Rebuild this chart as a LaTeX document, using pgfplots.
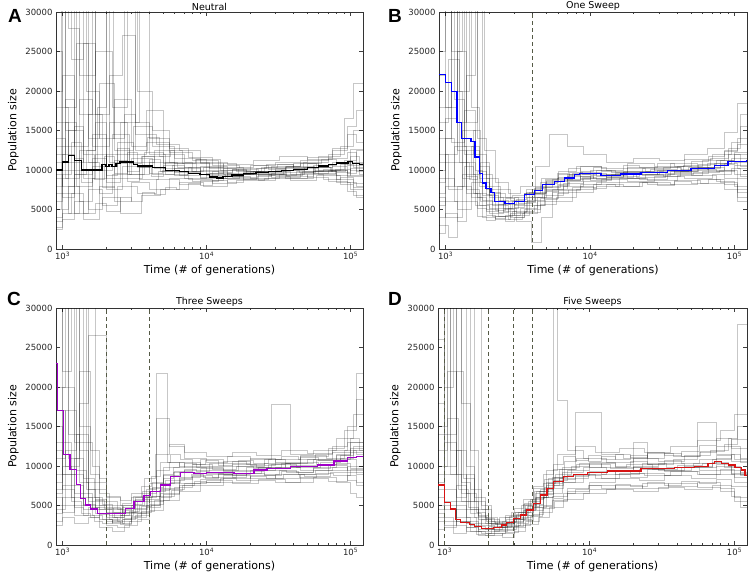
\documentclass[border=0pt]{standalone}
\usepackage{pgfplots}
\pgfplotsset{compat=1.18}
\usepackage{fontspec}
\setmainfont{DejaVu Sans}
\newfontfamily\letterfont{Liberation Sans}
\definecolor{medpurple}{RGB}{160,0,200}
\definecolor{medred}{RGB}{215,20,20}
\definecolor{medblue}{RGB}{0,0,255}
\definecolor{dashc}{RGB}{85,90,70}
\pgfplotsset{
  myaxis/.style={
    scale only axis, width=307pt, height=237pt,
    xmin=900, xmax=122000, ymin=0, ymax=30000,
    ytick={0,5000,10000,15000,20000,25000,30000},
    scaled y ticks=false,
    yticklabel style={/pgf/number format/1000 sep={}, /pgf/number format/assume math mode=true},
    xtick={1000,10000,100000},
    xticklabels={10\textsuperscript{3},10\textsuperscript{4},10\textsuperscript{5}},
    minor xtick={2000,3000,4000,5000,6000,7000,8000,9000,20000,30000,40000,50000,60000,70000,80000,90000},
    tick align=inside, xtick pos=both, ytick pos=both,
    major tick length=4pt, minor tick length=2pt,
    tick style={black!75, line width=0.5pt},
    axis line style={black!80, line width=0.7pt},
    tick label style={font=\fontsize{8.5}{9}\selectfont, black!85},
    label style={font=\fontsize{11}{13}\selectfont},
    title style={font=\fontsize{9.5}{11}\selectfont, yshift=-8pt},
    xlabel={Time (\# of generations)}, ylabel={Population size},
    xlabel style={yshift=2pt},
  },
  gr/.style={const plot, draw=black, draw opacity=0.22, line width=0.55pt, forget plot},
  med/.style={const plot, line width=1.3pt},
  sw/.style={dashc, dash pattern=on 4pt off 3pt, line width=0.7pt, forget plot},
}
\begin{document}
\begin{tikzpicture}
\useasboundingbox (0pt,0pt) rectangle (749pt,573pt);
% ---------------- A ----------------
\begin{semilogxaxis}[myaxis, at={(56pt,324pt)}, anchor=south west, title={Neutral}]
\addplot[gr] coordinates {(900,2500)(1000,5000)(1100,8000)(1300,6000)(1600,9000)(2000,12000)(2800,9500)(4000,11000)(6000,9800)(9000,10500)(14000,9400)(22000,9900)(35000,10300)(55000,9600)(80000,8800)(105000,7800)(130000,7800)};
\addplot[gr] coordinates {(900,35000)(1050,18000)(1250,26000)(1500,14000)(1800,21000)(2300,12500)(3100,15500)(4200,13000)(6000,11500)(9000,10800)(13000,10000)(20000,10600)(30000,11000)(50000,11600)(75000,12500)(95000,14500)(110000,13500)(130000,13500)};
\addplot[gr] coordinates {(900,6000)(1000,12000)(1200,4500)(1500,7500)(1900,5500)(2400,8000)(3300,7000)(4500,8800)(6500,8200)(9000,8700)(13000,9200)(20000,8900)(32000,9500)(50000,9100)(70000,8600)(95000,7300)(110000,6500)(130000,6500)};
\addplot[gr] coordinates {(900,20000)(1000,30500)(1150,24000)(1400,32000)(1700,17000)(2100,22000)(2600,27000)(3200,16000)(4000,14000)(5500,12200)(8000,11200)(12000,10400)(18000,9800)(28000,10500)(45000,11200)(70000,12000)(90000,16500)(105000,21000)(130000,21000)};
\addplot[gr] coordinates {(900,9000)(1100,15000)(1400,11000)(1800,7000)(2200,9500)(3000,11500)(4200,9500)(6000,10200)(9000,9000)(14000,9600)(22000,10200)(35000,9700)(55000,10600)(80000,11000)(100000,10000)(130000,10000)};
\addplot[gr] coordinates {(900,14000)(1050,9000)(1300,19000)(1600,13000)(2100,16000)(2800,12000)(3800,13500)(5500,11000)(8000,9800)(12000,9200)(18000,8800)(27000,9300)(42000,9800)(65000,10100)(90000,11200)(110000,12500)(130000,12500)};
\addplot[gr] coordinates {(900,4000)(1000,7000)(1200,10000)(1500,5000)(1900,6500)(2500,4500)(3500,6800)(4800,7500)(6500,8500)(9500,8000)(14000,8800)(22000,9400)(35000,9000)(55000,9800)(80000,8500)(100000,7500)(130000,7500)};
\addplot[gr] coordinates {(900,40000)(1100,28000)(1300,22000)(1700,25000)(2200,18000)(2800,30500)(3300,20000)(4200,15000)(5500,12800)(7500,11600)(11000,10600)(17000,10200)(26000,10700)(40000,10300)(60000,11800)(85000,13000)(105000,15000)(130000,15000)};
\addplot[gr] coordinates {(900,12000)(1050,16000)(1250,8000)(1600,11500)(2000,9000)(2600,10500)(3400,8800)(4600,9800)(6500,9300)(9000,10000)(13000,9500)(20000,9800)(30000,10000)(48000,10400)(72000,10000)(95000,9200)(130000,9200)};
\addplot[gr] coordinates {(900,8000)(1000,22000)(1200,13000)(1500,17000)(1900,10500)(2400,13500)(3100,11000)(4300,12500)(6000,10800)(8500,11400)(12500,10000)(19000,9600)(30000,10200)(47000,11000)(70000,11500)(95000,12200)(110000,11000)(130000,11000)};
\addplot[gr] coordinates {(900,3500)(1000,4500)(1150,7000)(1400,3800)(1800,8000)(2300,6000)(3000,8500)(4000,7600)(5500,9000)(8000,8600)(12000,9000)(18000,9400)(28000,9100)(45000,9600)(70000,10000)(95000,8500)(110000,8000)(130000,8000)};
\addplot[gr] coordinates {(900,25000)(1000,13000)(1200,30500)(1450,20000)(1800,14000)(2300,19000)(3000,13000)(3800,17500)(5000,12000)(7000,11000)(10500,10200)(16000,9800)(25000,10400)(40000,10800)(60000,10000)(85000,10700)(105000,10300)(130000,10300)};
\addplot[gr] coordinates {(900,10000)(1000,6500)(1200,9500)(1600,14500)(2000,7500)(2600,9000)(3600,11800)(5000,10200)(7000,9000)(10000,9600)(15000,10100)(23000,9700)(36000,10500)(56000,10000)(80000,9300)(100000,10200)(130000,10200)};
\addplot[gr] coordinates {(900,16000)(1100,11000)(1400,26000)(1700,10000)(2200,14500)(2900,9500)(3700,12200)(5000,10800)(7000,10300)(10000,9300)(15000,9100)(23000,9500)(36000,9200)(55000,9900)(80000,9700)(100000,11800)(115000,9500)(130000,9500)};
\addplot[gr] coordinates {(900,5000)(980,30500)(1300,17000)(1600,30500)(2100,11000)(2700,30500)(3200,14500)(4500,13200)(6500,12500)(9000,11000)(14000,10700)(21000,11200)(32000,11800)(50000,11400)(75000,12800)(95000,15500)(110000,17500)(130000,17500)};
\addplot[gr] coordinates {(900,18000)(1100,4500)(1300,12500)(1700,30500)(2000,8500)(2500,16000)(3400,30500)(4000,12000)(5200,9500)(7500,8800)(11000,8300)(16000,8700)(25000,9000)(38000,8700)(58000,9300)(85000,8200)(105000,6800)(130000,6800)};
\addplot[gr] coordinates {(900,7000)(1000,9500)(1150,13500)(1350,8500)(1600,10500)(1900,7800)(2300,11200)(2800,8600)(3400,10300)(4100,9200)(5000,10600)(6000,9700)(7500,10300)(9000,9500)(11000,9900)(14000,9200)(18000,9700)(23000,9300)(30000,9900)(38000,9500)(48000,10200)(60000,9800)(75000,10500)(95000,9600)(110000,10800)(130000,10800)};
\addplot[gr] coordinates {(900,11000)(1050,19000)(1200,9500)(1450,12500)(1700,16000)(2000,10500)(2400,12800)(2900,10800)(3500,11700)(4300,10200)(5200,11000)(6300,10400)(7800,9900)(9500,10300)(12000,9700)(15000,10100)(19000,9800)(24000,10300)(31000,10700)(40000,10200)(50000,10900)(63000,11400)(80000,10800)(100000,12600)(130000,12600)};
\addplot[gr] coordinates {(900,2800)(1000,3800)(1200,6000)(1400,4500)(1700,5800)(2000,4800)(2500,6500)(3000,6000)(3600,7200)(4300,6900)(5200,7800)(6200,7500)(7500,8300)(9000,8100)(11000,8700)(14000,8500)(18000,9000)(23000,8700)(30000,9200)(38000,8900)(50000,9400)(65000,8800)(85000,9100)(105000,8300)(130000,8300)};
\addplot[gr] coordinates {(900,30500)(1050,15000)(1250,30500)(1500,11000)(1750,18000)(2000,30500)(2250,14000)(2700,17000)(3200,12500)(3900,14200)(4700,11800)(5600,12500)(6800,10900)(8300,11300)(10000,10400)(13000,10800)(16000,10300)(21000,10600)(27000,10100)(35000,10500)(45000,10900)(58000,10300)(75000,11000)(95000,10600)(130000,10600)};
\addplot[gr] coordinates {(900,9500)(1000,8000)(1200,11500)(1400,9000)(1700,12000)(2000,9300)(2400,10800)(2800,9900)(3400,10500)(4000,9600)(4900,10000)(6000,9300)(7300,9700)(9000,9100)(11000,9400)(13500,9000)(17000,9500)(22000,9200)(28000,9600)(36000,9300)(46000,9800)(60000,9500)(78000,10100)(100000,9300)(130000,9300)};
\addplot[gr] coordinates {(900,13000)(1000,10000)(1200,15500)(1400,12000)(1650,8800)(1950,11800)(2300,9600)(2800,12300)(3300,10400)(4000,11300)(4800,9800)(5800,10600)(7000,9900)(8500,10800)(10500,9600)(13000,10200)(16500,9500)(21000,9900)(27000,9400)(34000,10000)(44000,9700)(57000,10400)(73000,9900)(92000,11000)(110000,9800)(130000,9800)};
\addplot[med, black] coordinates {(900,10000)(1000,11000)(1100,11800)(1210,11200)(1350,10000)(1880,10700)(2000,10400)(2100,10700)(2200,10400)(2350,10800)(2500,11000)(3100,10700)(3300,10500)(4200,10300)(5200,9900)(6500,9800)(7500,9600)(9000,9400)(10500,9100)(11800,9000)(13000,9150)(15000,9350)(18000,9550)(22000,9650)(27000,9800)(33000,9900)(40000,10100)(50000,10300)(60000,10500)(70000,10700)(80000,10900)(96000,11100)(103000,10800)(115000,10700)(130000,10700)};
\end{semilogxaxis}
% ---------------- B ----------------
\begin{semilogxaxis}[myaxis, at={(439pt,324pt)}, anchor=south west, width=308pt, title={One Sweep}]
\addplot[gr] coordinates {(900,30500)(1100,25000)(1300,30500)(1500,18000)(1700,9000)(2000,6500)(2500,5200)(3200,6000)(4200,7800)(5500,8800)(7500,9600)(11000,9200)(17000,9800)(26000,10100)(40000,10500)(60000,11200)(85000,12500)(105000,14000)(130000,14000)};
\addplot[gr] coordinates {(900,7000)(1000,12000)(1200,30500)(1400,11000)(1600,7000)(1900,5000)(2300,4200)(2900,4800)(3700,6200)(4800,7600)(6500,8300)(9000,9000)(14000,9400)(21000,9100)(33000,9600)(50000,9300)(75000,8600)(100000,8000)(130000,8000)};
\addplot[gr] coordinates {(900,3000)(1050,1500)(1200,8000)(1500,6500)(1800,4000)(2200,3800)(2800,4500)(3500,5000)(4500,6400)(6000,7400)(8500,8200)(12000,8800)(18000,8600)(28000,9200)(45000,9000)(70000,9500)(95000,10200)(110000,9200)(130000,9200)};
\addplot[gr] coordinates {(900,25000)(1000,30500)(1250,20000)(1450,30500)(1650,14000)(1900,9000)(2300,7500)(2800,6200)(3500,7000)(4500,8500)(6000,9800)(8000,10500)(12000,10200)(18000,10800)(28000,10500)(45000,11300)(70000,12000)(95000,13500)(110000,17000)(130000,17000)};
\addplot[gr] coordinates {(900,12000)(1050,7500)(1300,15000)(1600,10000)(1800,6800)(2100,5500)(2700,4300)(3300,5200)(4300,6000)(5500,7200)(7500,7800)(11000,8500)(16000,9000)(25000,8700)(40000,9300)(60000,9800)(85000,9000)(105000,7500)(130000,7500)};
\addplot[gr] coordinates {(900,18000)(1100,30500)(1350,13000)(1550,9500)(1750,11000)(2000,7200)(2400,6000)(3000,5500)(3800,7200)(5000,8600)(7000,9400)(10000,10000)(15000,9700)(23000,10200)(36000,10800)(55000,10400)(80000,11200)(100000,12000)(130000,12000)};
\addplot[gr] coordinates {(900,5500)(1000,9000)(1150,6000)(1400,12500)(1700,8000)(2000,6000)(2500,4800)(3100,3500)(3900,900)(4600,4000)(5500,6000)(7500,7200)(10500,8200)(15000,7900)(23000,8500)(36000,8200)(55000,8800)(80000,8400)(105000,6500)(130000,6500)};
\addplot[gr] coordinates {(900,30500)(1200,16000)(1400,22000)(1600,30500)(1850,12500)(2200,8500)(2700,7000)(3300,8000)(4200,10500)(5200,14500)(7000,13000)(9000,12000)(13000,11000)(20000,11500)(30000,11200)(45000,12000)(65000,12800)(85000,14800)(105000,18500)(130000,18500)};
\addplot[gr] coordinates {(900,9000)(1000,14000)(1150,11000)(1400,7500)(1700,5500)(2000,4500)(2500,5000)(3000,4300)(3800,5500)(4800,6800)(6500,8000)(9000,8600)(13000,9100)(20000,9400)(30000,9900)(48000,10300)(72000,10800)(95000,11500)(110000,10500)(130000,10500)};
\addplot[gr] coordinates {(900,14000)(1100,20000)(1300,9000)(1500,13000)(1700,10500)(2000,8000)(2400,6500)(2900,6800)(3600,7500)(4600,9000)(6000,9500)(8500,10500)(12000,9800)(18000,10400)(28000,10000)(44000,10600)(68000,11500)(90000,12800)(110000,15500)(130000,15500)};
\addplot[gr] coordinates {(900,6500)(1000,4000)(1300,9500)(1600,5500)(1900,4800)(2300,5600)(2800,4000)(3500,4600)(4500,5600)(5800,6600)(8000,7500)(11000,8000)(16000,8400)(25000,8200)(38000,8700)(58000,8300)(85000,7600)(105000,6000)(130000,6000)};
\addplot[gr] coordinates {(900,22000)(1000,18000)(1200,25000)(1400,16000)(1650,30500)(1800,9500)(2100,7000)(2600,6500)(3200,5800)(4000,7000)(5000,8000)(7000,8800)(10000,9300)(15000,9600)(23000,9300)(36000,9800)(55000,10200)(80000,10700)(100000,11000)(130000,11000)};
\addplot[gr] coordinates {(900,11000)(1000,30500)(1100,13500)(1350,17500)(1600,12000)(1900,7500)(2300,5200)(2900,6000)(3700,6500)(4700,7800)(6200,8700)(8500,9700)(12000,9500)(18000,9900)(28000,10400)(43000,10000)(65000,10800)(90000,12000)(110000,11500)(130000,11500)};
\addplot[gr] coordinates {(900,4000)(1000,6000)(1200,5000)(1500,8500)(1800,6200)(2100,4200)(2700,3800)(3400,4500)(4300,6500)(5500,7500)(7000,9200)(10000,8700)(14000,9000)(22000,8800)(34000,9400)(52000,9700)(78000,10000)(100000,9500)(130000,9500)};
\addplot[gr] coordinates {(900,8500)(1000,11000)(1150,8000)(1350,10500)(1550,7000)(1750,6000)(2000,5200)(2300,4600)(2700,5100)(3100,4700)(3600,5900)(4200,6500)(5000,7300)(6000,8100)(7200,8600)(8800,9100)(11000,8800)(14000,9300)(18000,9000)(24000,9500)(32000,9200)(42000,9800)(56000,10100)(75000,9800)(100000,10600)(130000,10600)};
\addplot[gr] coordinates {(900,30500)(1150,19000)(1350,12000)(1550,15000)(1750,8500)(2000,6800)(2300,6200)(2700,5600)(3100,6300)(3600,7200)(4200,8000)(5000,8700)(6000,9100)(7200,9700)(8800,9400)(11000,10000)(14000,9700)(18000,10200)(24000,9900)(32000,10400)(42000,10100)(56000,10700)(75000,11200)(100000,12300)(130000,12300)};
\addplot[gr] coordinates {(900,2000)(1000,4500)(1200,3500)(1400,6000)(1650,4200)(1900,3600)(2200,4100)(2600,3500)(3000,4000)(3500,4800)(4100,5500)(4900,6300)(5900,7000)(7100,7500)(8600,8000)(10500,7700)(13000,8200)(17000,7900)(22000,8400)(29000,8100)(38000,8600)(50000,8300)(66000,8800)(85000,8200)(105000,7200)(130000,7200)};
\addplot[gr] coordinates {(900,16000)(1050,24000)(1250,11000)(1450,8800)(1650,9800)(1900,6900)(2200,5700)(2600,6400)(3000,5300)(3500,6500)(4100,7100)(4900,8300)(5900,8900)(7100,9300)(8600,8900)(10500,9600)(13000,9100)(17000,9700)(22000,9400)(29000,10000)(38000,9700)(50000,10300)(66000,10000)(85000,10800)(105000,10200)(130000,10200)};
\addplot[gr] coordinates {(900,10000)(1000,16500)(1200,12500)(1400,9200)(1650,6500)(1900,5600)(2200,4900)(2600,5800)(3000,6600)(3500,7000)(4100,7700)(4900,8800)(5900,9600)(7100,10200)(8600,9900)(10500,10400)(13000,10000)(17000,10600)(22000,10300)(29000,10800)(38000,10500)(50000,11100)(66000,11700)(85000,12400)(105000,13200)(130000,13200)};
\addplot[gr] coordinates {(900,6000)(1000,8000)(1150,13000)(1400,7000)(1650,5200)(1900,4300)(2200,3900)(2600,4300)(3000,5600)(3500,6000)(4100,6900)(4900,7400)(5900,8200)(7100,8700)(8600,9200)(10500,9000)(13000,9500)(17000,9200)(22000,9700)(29000,9400)(38000,9900)(50000,9600)(66000,10300)(85000,10000)(105000,9000)(130000,9000)};
\addplot[sw] coordinates {(4000,0)(4000,30000)};
\addplot[med, medblue] coordinates {(900,22100)(1000,21100)(1100,19930)(1198,16000)(1291,14030)(1498,13600)(1597,11630)(1712,9600)(1804,8340)(1903,7700)(2061,7160)(2174,6030)(2576,5730)(2990,6000)(3500,6870)(4110,7400)(4700,8130)(5660,8550)(6640,8970)(7780,9400)(8420,9520)(11900,9270)(16300,9500)(22500,9700)(34500,9950)(49900,10200)(72500,10600)(90200,11100)(121000,11200)(130000,11200)};
\end{semilogxaxis}
% ---------------- C ----------------
\begin{semilogxaxis}[myaxis, at={(56pt,28pt)}, anchor=south west, title={Three Sweeps}]
\addplot[gr] coordinates {(900,30500)(1000,22000)(1150,30500)(1300,12000)(1500,6000)(1800,4500)(2200,3500)(2700,4200)(3300,5500)(4000,6800)(5200,8200)(7000,9500)(10000,9000)(15000,9400)(23000,9800)(35000,10300)(55000,10800)(80000,11500)(100000,13000)(130000,13000)};
\addplot[gr] coordinates {(900,8000)(1000,30500)(1200,9000)(1400,6500)(1600,5000)(2000,3000)(2500,2600)(3000,3500)(3800,4800)(4800,6500)(6500,7800)(9000,8300)(13000,8800)(20000,8500)(30000,9000)(48000,8700)(72000,9200)(95000,8200)(110000,7500)(130000,7500)};
\addplot[gr] coordinates {(900,4500)(1050,12000)(1250,30500)(1450,8000)(1700,5500)(2000,4200)(2500,3800)(3100,4500)(3900,6000)(4500,21800)(5300,10500)(6500,10000)(9000,10800)(13000,10300)(20000,11000)(30000,10500)(45000,11200)(70000,12200)(90000,14500)(110000,21800)(130000,21800)};
\addplot[gr] coordinates {(900,15000)(1000,7000)(1200,5000)(1500,26500)(2000,5500)(2400,4500)(3000,5000)(3700,6500)(4500,16000)(5500,12500)(7000,11000)(10000,10500)(14000,11200)(20000,10800)(28000,17800)(38000,11500)(55000,12000)(80000,13500)(105000,16500)(130000,16500)};
\addplot[gr] coordinates {(900,3000)(1000,5000)(1200,3800)(1500,4800)(1800,3200)(2200,2800)(2700,3400)(3300,4000)(4000,5200)(5000,6400)(6500,7500)(9000,8000)(13000,8400)(20000,8800)(30000,8500)(45000,9000)(70000,9400)(95000,10000)(110000,9000)(130000,9000)};
\addplot[gr] coordinates {(900,20000)(1050,30500)(1300,15000)(1550,9000)(1800,6500)(2100,5000)(2600,4200)(3200,5800)(4000,7200)(5000,8800)(6500,9200)(9000,9700)(13000,9300)(19000,9900)(28000,10200)(42000,9800)(62000,10500)(85000,11000)(105000,12000)(130000,12000)};
\addplot[gr] coordinates {(900,6000)(1000,4200)(1200,7500)(1400,5200)(1700,4000)(2000,2500)(2400,2200)(2900,3000)(3500,4300)(4300,5600)(5500,7000)(7000,7800)(10000,8200)(15000,7800)(23000,8300)(35000,8000)(55000,8600)(80000,8000)(100000,6500)(110000,6000)(130000,6000)};
\addplot[gr] coordinates {(900,30500)(1100,11000)(1300,18000)(1500,30500)(1700,8000)(2000,6200)(2500,5600)(3000,6500)(3700,8500)(4400,11500)(5500,12800)(7000,11800)(10000,11200)(15000,11800)(22000,11300)(33000,12000)(50000,11600)(75000,12500)(95000,15000)(110000,18500)(130000,18500)};
\addplot[gr] coordinates {(900,9000)(1000,13000)(1150,6000)(1400,4500)(1700,5800)(2000,4500)(2600,3200)(3200,3800)(4000,5500)(5000,7200)(6500,8600)(9000,9100)(13000,8900)(20000,9400)(30000,9900)(45000,9500)(70000,10200)(95000,10800)(110000,10000)(130000,10000)};
\addplot[gr] coordinates {(900,12000)(1000,9000)(1250,14000)(1500,7000)(1800,5000)(2100,3800)(2600,4800)(3200,6000)(4000,7800)(5000,9800)(6500,10500)(9000,10000)(13000,10600)(20000,10100)(30000,10800)(45000,11400)(68000,11000)(90000,12000)(110000,11500)(130000,11500)};
\addplot[gr] coordinates {(900,2500)(1000,3500)(1200,2800)(1500,3500)(1800,2200)(2200,1700)(2700,2500)(3300,3200)(4000,4400)(5000,5600)(6500,6800)(9000,7500)(13000,7900)(20000,8200)(30000,7900)(45000,8400)(70000,8100)(95000,8800)(110000,8000)(130000,8000)};
\addplot[gr] coordinates {(900,30500)(1200,30500)(1400,13000)(1600,10000)(1800,7000)(2000,4800)(2500,4000)(3000,4600)(3800,6200)(4800,7800)(6000,9300)(8000,10200)(11000,9600)(16000,10000)(25000,10400)(38000,10100)(58000,10700)(85000,11300)(105000,12500)(130000,12500)};
\addplot[gr] coordinates {(900,5000)(1000,7500)(1200,11000)(1400,6000)(1600,4500)(2000,3500)(2400,3000)(3000,4000)(3800,5000)(4700,6200)(6000,7300)(8000,8800)(11000,8600)(16000,9100)(24000,9500)(36000,9200)(55000,9800)(80000,10400)(100000,9700)(130000,9700)};
\addplot[gr] coordinates {(900,17000)(1050,10000)(1300,22000)(1550,12000)(1800,8500)(2000,6000)(2500,5000)(3100,6200)(3800,7000)(4500,9500)(5500,10500)(7000,9800)(10000,9500)(15000,10200)(22000,9800)(33000,10300)(50000,10900)(75000,11800)(100000,13500)(115000,12000)(130000,12000)};
\addplot[gr] coordinates {(900,7000)(1000,10000)(1150,5500)(1350,4000)(1550,3500)(1800,3900)(2100,3200)(2500,3700)(2900,4300)(3400,5000)(4000,5800)(4700,6900)(5500,7800)(6500,8500)(7800,8900)(9500,8600)(12000,9100)(15000,8800)(19000,9300)(25000,9000)(32000,9500)(42000,9200)(55000,9700)(72000,10100)(95000,9500)(130000,9500)};
\addplot[gr] coordinates {(900,30500)(1100,14000)(1300,8000)(1500,5500)(1700,4800)(2000,4000)(2300,3500)(2700,4400)(3100,5200)(3600,6100)(4200,7300)(5000,8500)(5900,9200)(7000,9600)(8500,9300)(10500,9800)(13000,9500)(16500,10000)(21000,9700)(27000,10200)(35000,9900)(45000,10500)(60000,10200)(80000,10900)(100000,11800)(130000,11800)};
\addplot[gr] coordinates {(900,4000)(1000,6000)(1200,4800)(1400,3800)(1650,3000)(1900,2700)(2200,3100)(2600,2800)(3000,3600)(3500,4200)(4100,5000)(4800,6000)(5700,6900)(6800,7600)(8200,8100)(10000,7900)(12500,8400)(16000,8200)(20000,8700)(26000,8400)(34000,8900)(44000,8600)(58000,9100)(76000,8800)(100000,9600)(130000,9600)};
\addplot[gr] coordinates {(900,11000)(1050,17000)(1250,9500)(1450,7000)(1700,5700)(1950,4600)(2250,4100)(2650,5000)(3100,5700)(3600,6800)(4200,8000)(5000,8900)(5900,9800)(7000,10300)(8500,9900)(10500,10400)(13000,10000)(16500,10700)(21000,10300)(27000,10800)(35000,10400)(45000,11100)(60000,10700)(80000,11400)(100000,12200)(130000,12200)};
\addplot[gr] coordinates {(900,6500)(1000,9000)(1200,6500)(1400,5000)(1600,3800)(1900,3300)(2200,2900)(2600,3300)(3000,4100)(3500,4900)(4100,6200)(4800,7100)(5600,8000)(6600,8300)(8000,8700)(9800,8400)(12000,8900)(15000,8600)(19000,9100)(25000,8800)(33000,9300)(43000,9000)(57000,9500)(75000,9900)(95000,9200)(130000,9200)};
\addplot[gr] coordinates {(900,13000)(1000,20000)(1200,13000)(1400,8500)(1650,6000)(1900,5200)(2200,4600)(2600,5300)(3000,6100)(3500,7400)(4100,8700)(4800,10500)(5600,11500)(6600,10800)(8000,10200)(9800,10700)(12000,10100)(15000,10600)(19000,10200)(25000,10800)(33000,11200)(43000,10800)(57000,11500)(75000,12000)(95000,13000)(130000,13000)};
\addplot[sw] coordinates {(2000,0)(2000,30000)};
\addplot[sw] coordinates {(4000,0)(4000,30000)};
\addplot[med, medpurple] coordinates {(900,23000)(925,17000)(1020,11460)(1124,9600)(1251,7670)(1334,5900)(1445,5060)(1564,4550)(1741,4000)(2735,4630)(3130,5480)(3670,6240)(4080,6740)(4790,7580)(5630,8640)(6600,9190)(8160,9060)(10000,9140)(15500,9060)(21300,9480)(26300,9690)(38300,9900)(58700,10110)(76600,10620)(94700,11040)(110000,11160)(130000,11160)};
\end{semilogxaxis}
% ---------------- D ----------------
\begin{semilogxaxis}[myaxis, at={(438pt,28pt)}, anchor=south west, width=309pt, title={Five Sweeps}]
\addplot[gr] coordinates {(900,30500)(1000,20000)(1150,30500)(1300,8000)(1500,4000)(1800,2500)(2200,1800)(2700,2500)(3300,3500)(4000,4800)(5000,6500)(6500,8000)(9000,9000)(13000,9300)(20000,9800)(30000,9500)(45000,10000)(70000,10500)(90000,10000)(110000,9200)(130000,9200)};
\addplot[gr] coordinates {(900,7000)(1000,30500)(1200,5000)(1400,3000)(1700,1800)(2000,1200)(2500,1500)(3000,2200)(3600,3000)(4500,4200)(5500,5600)(7000,6800)(10000,7500)(15000,7200)(23000,7800)(35000,7400)(55000,8000)(80000,7200)(100000,6000)(130000,6000)};
\addplot[gr] coordinates {(900,3000)(1000,2200)(1200,4500)(1400,2800)(1700,2000)(2000,1800)(2400,2400)(3000,3200)(3600,4500)(4300,6000)(5200,7800)(6500,9200)(9000,9800)(13000,9400)(20000,10000)(30000,10400)(45000,9900)(70000,10800)(95000,11500)(110000,10500)(130000,10500)};
\addplot[gr] coordinates {(900,26000)(1000,14000)(1200,30500)(1400,10000)(1600,6000)(1900,3500)(2300,2800)(2800,3600)(3400,5000)(4100,7200)(5000,9500)(6000,11500)(8000,12500)(11000,11800)(16000,12300)(24000,11700)(36000,12500)(55000,13200)(80000,14500)(100000,16500)(130000,16500)};
\addplot[gr] coordinates {(900,5000)(1000,7000)(1200,3500)(1500,2500)(1800,3200)(2100,2200)(2600,2000)(3100,2800)(3800,3800)(4500,5000)(5500,6200)(7000,7200)(10000,8000)(15000,8500)(22000,8200)(33000,8800)(50000,8400)(75000,9000)(100000,8000)(130000,8000)};
\addplot[gr] coordinates {(900,12000)(1050,30500)(1300,18000)(1500,7000)(1800,4500)(2100,3000)(2600,3500)(3200,4200)(3900,5800)(4800,7800)(5800,9000)(7500,10000)(10000,10500)(15000,9800)(23000,10300)(34000,9800)(52000,10400)(75000,11000)(95000,12500)(110000,11000)(130000,11000)};
\addplot[gr] coordinates {(900,2000)(1000,3500)(1150,1500)(1400,2200)(1700,1200)(2000,1500)(2500,1000)(3000,1800)(3600,2600)(4400,3500)(5300,4800)(6600,5800)(9000,6500)(13000,7000)(20000,6800)(30000,7300)(45000,7000)(70000,7500)(95000,6200)(110000,5500)(130000,5500)};
\addplot[gr] coordinates {(900,30500)(1100,9000)(1300,5500)(1600,30500)(1800,5000)(2100,2600)(2600,2400)(3200,3300)(4000,4400)(4800,6000)(5600,30500)(6000,18300)(7000,12000)(9000,11000)(13000,10500)(20000,11000)(30000,10600)(45000,11400)(68000,12000)(90000,13500)(105000,28000)(130000,28000)};
\addplot[gr] coordinates {(900,9000)(1000,5500)(1200,7500)(1400,4500)(1700,2800)(2000,2400)(2500,3000)(3100,3900)(3800,5500)(4600,7000)(5600,8200)(7000,8800)(10000,9300)(15000,9000)(22000,9600)(33000,9400)(50000,9900)(75000,10200)(95000,9400)(110000,8800)(130000,8800)};
\addplot[gr] coordinates {(900,18000)(1000,10000)(1200,22000)(1350,8500)(1600,5500)(1900,2800)(2300,2200)(2900,3000)(3500,4400)(4200,6000)(5000,8000)(6200,9600)(8000,16800)(12000,11500)(17000,11000)(25000,11600)(38000,11200)(58000,11900)(85000,12800)(105000,15000)(130000,15000)};
\addplot[gr] coordinates {(900,4000)(1000,2500)(1200,3000)(1500,1800)(1800,1500)(2100,2000)(2600,1600)(3200,2500)(3900,3600)(4700,4600)(5700,5500)(7000,6600)(10000,7000)(15000,7600)(23000,7200)(35000,7800)(55000,7300)(80000,6800)(100000,5500)(110000,4800)(130000,4800)};
\addplot[gr] coordinates {(900,30500)(1300,30500)(1500,12000)(1700,4500)(2000,3200)(2400,2700)(3000,3800)(3600,5000)(4300,6800)(5200,8500)(6500,9800)(8500,10400)(12000,9800)(18000,10200)(27000,9600)(40000,10100)(60000,10400)(85000,9800)(110000,9000)(130000,9000)};
\addplot[gr] coordinates {(900,8000)(1000,13000)(1200,6000)(1400,9000)(1600,3500)(2000,2000)(2500,2600)(3000,3400)(3700,4900)(4500,6800)(5500,8600)(7000,9400)(10000,10200)(14000,9700)(20000,13000)(25000,10200)(38000,10800)(55000,15500)(75000,11500)(100000,10800)(130000,10800)};
\addplot[gr] coordinates {(900,15000)(1050,22000)(1200,9000)(1400,5500)(1700,3800)(2000,2800)(2400,3500)(2900,4200)(3500,5200)(4200,6500)(5000,7500)(6200,8400)(8000,8900)(11000,8500)(16000,9100)(24000,8800)(36000,9300)(55000,9000)(80000,9600)(100000,8600)(130000,8600)};
\addplot[gr] coordinates {(900,6000)(1000,4500)(1200,3000)(1400,2200)(1650,1800)(1900,1500)(2200,1900)(2600,2300)(3000,2900)(3500,3700)(4100,4800)(4800,6100)(5600,7200)(6600,8000)(8000,8500)(9800,8800)(12000,8400)(15000,8900)(19000,8600)(25000,9100)(33000,8800)(43000,9300)(57000,9000)(75000,9500)(95000,8900)(130000,8900)};
\addplot[gr] coordinates {(900,30500)(1100,12000)(1300,6500)(1500,4500)(1700,3300)(2000,2700)(2300,2300)(2700,2900)(3100,3700)(3600,4600)(4200,5900)(4900,7300)(5700,8600)(6700,9600)(8100,10200)(9900,9800)(12000,10400)(15000,10000)(19000,10600)(25000,10200)(33000,10700)(43000,10300)(57000,10900)(75000,11400)(95000,10600)(130000,10600)};
\addplot[gr] coordinates {(900,3500)(1000,5000)(1200,2500)(1400,1800)(1650,1400)(1900,1200)(2200,1500)(2600,1900)(3000,2400)(3500,3100)(4100,3900)(4800,4900)(5600,5900)(6600,6600)(8000,7100)(9800,7500)(12000,7200)(15000,7700)(19000,7400)(25000,7900)(33000,7600)(43000,8100)(57000,7800)(75000,8300)(95000,7400)(130000,7400)};
\addplot[gr] coordinates {(900,10000)(1050,16000)(1250,7000)(1450,4800)(1700,3600)(1950,3000)(2250,2600)(2650,3200)(3050,4100)(3550,5300)(4150,6800)(4850,8300)(5650,9600)(6650,10600)(8050,11000)(9850,10600)(12000,11200)(15000,10800)(19000,11400)(25000,11000)(33000,11600)(43000,11200)(57000,11800)(75000,12500)(95000,13400)(130000,13400)};
\addplot[gr] coordinates {(900,4500)(1000,3000)(1200,5500)(1400,3500)(1650,2400)(1900,2000)(2200,2300)(2600,2700)(3000,3300)(3500,4100)(4100,5100)(4800,6400)(5600,7500)(6600,8300)(8000,8700)(9800,9200)(12000,8900)(15000,9400)(19000,9100)(25000,9600)(33000,9300)(43000,9800)(57000,9500)(75000,10000)(95000,9100)(130000,9100)};
\addplot[gr] coordinates {(900,14000)(1000,9000)(1200,12000)(1400,6500)(1650,4200)(1900,3400)(2200,2900)(2600,3800)(3000,4700)(3500,5800)(4100,7400)(4800,8900)(5600,10200)(6600,11200)(8000,10700)(9800,11300)(12000,10900)(15000,11500)(19000,11100)(25000,11700)(33000,11300)(43000,11900)(57000,12600)(75000,13500)(95000,12300)(130000,12300)};
\addplot[sw] coordinates {(1000,0)(1000,30000)};
\addplot[sw] coordinates {(2000,0)(2000,30000)};
\addplot[sw] coordinates {(3000,0)(3000,30000)};
\addplot[sw] coordinates {(4000,0)(4000,30000)};
\addplot[med, medred] coordinates {(900,7580)(1000,5390)(1095,4550)(1192,3240)(1285,2860)(1492,2610)(1615,2320)(1797,2100)(2166,2190)(2475,2530)(2680,2820)(2980,3370)(3320,3790)(3690,4420)(4110,5270)(4570,6320)(5080,7160)(5650,8010)(6630,8640)(7790,8930)(9640,9190)(13300,9350)(18270,9350)(22600,9690)(29500,9690)(38500,9780)(52800,9900)(65600,10320)(73000,10530)(81300,10320)(90500,10110)(100700,9780)(112000,9480)(118000,8760)(130000,8760)};
\end{semilogxaxis}
% panel letters
\node[font=\letterfont\bfseries\fontsize{19}{20}\selectfont] at (15pt,557pt) {A};
\node[font=\letterfont\bfseries\fontsize{19}{20}\selectfont] at (395pt,557pt) {B};
\node[font=\letterfont\bfseries\fontsize{19}{20}\selectfont] at (14pt,274pt) {C};
\node[font=\letterfont\bfseries\fontsize{19}{20}\selectfont] at (395pt,274pt) {D};
\end{tikzpicture}
\end{document}
